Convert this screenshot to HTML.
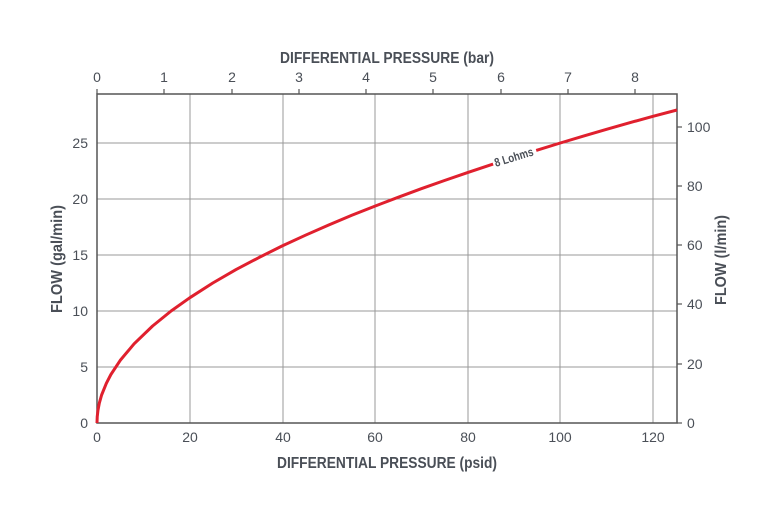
<!DOCTYPE html>
<html><head><style>body{margin:0;background:#fff}svg{display:block}text{font-family:"Liberation Sans Narrow","Liberation Sans",sans-serif;fill:#4a4f57}</style></head>
<body>
<svg width="780" height="520" viewBox="0 0 780 520" xmlns="http://www.w3.org/2000/svg">
<g stroke="#999" stroke-width="1">
<line x1="190" y1="94" x2="190" y2="423"/><line x1="283" y1="94" x2="283" y2="423"/><line x1="375" y1="94" x2="375" y2="423"/><line x1="468" y1="94" x2="468" y2="423"/><line x1="560" y1="94" x2="560" y2="423"/><line x1="653" y1="94" x2="653" y2="423"/>
<line x1="97" y1="143" x2="677" y2="143"/><line x1="97" y1="199" x2="677" y2="199"/><line x1="97" y1="255" x2="677" y2="255"/><line x1="97" y1="311" x2="677" y2="311"/><line x1="97" y1="367" x2="677" y2="367"/>
</g>
<rect x="97" y="94" width="580" height="329" fill="none" stroke="#555" stroke-width="1.5"/>
<g stroke="#555" stroke-width="1.2">
<line x1="97" y1="94" x2="97" y2="89"/><line x1="164" y1="94" x2="164" y2="89"/><line x1="232" y1="94" x2="232" y2="89"/><line x1="299" y1="94" x2="299" y2="89"/><line x1="366" y1="94" x2="366" y2="89"/><line x1="433" y1="94" x2="433" y2="89"/><line x1="501" y1="94" x2="501" y2="89"/><line x1="568" y1="94" x2="568" y2="89"/><line x1="635" y1="94" x2="635" y2="89"/>
<line x1="677" y1="127" x2="682" y2="127"/><line x1="677" y1="186" x2="682" y2="186"/><line x1="677" y1="245" x2="682" y2="245"/><line x1="677" y1="304" x2="682" y2="304"/><line x1="677" y1="364" x2="682" y2="364"/><line x1="677" y1="423" x2="682" y2="423"/>
</g>
<g font-size="14" text-anchor="middle">
<text x="97" y="82">0</text><text x="164" y="82">1</text><text x="232" y="82">2</text><text x="299" y="82">3</text><text x="366" y="82">4</text><text x="433" y="82">5</text><text x="501" y="82">6</text><text x="568" y="82">7</text><text x="635" y="82">8</text>
<text x="97" y="442">0</text><text x="190" y="442">20</text><text x="283" y="442">40</text><text x="375" y="442">60</text><text x="468" y="442">80</text><text x="560" y="442">100</text><text x="653" y="442">120</text>
</g>
<g font-size="14" text-anchor="end">
<text x="88" y="148">25</text><text x="88" y="204">20</text><text x="88" y="260">15</text><text x="88" y="316">10</text><text x="88" y="372">5</text><text x="88" y="428">0</text>
</g>
<g font-size="14" text-anchor="start">
<text x="687" y="132">100</text><text x="687" y="191">80</text><text x="687" y="250">60</text><text x="687" y="309">40</text><text x="687" y="369">20</text><text x="687" y="428">0</text>
</g>
<g font-size="16" font-weight="bold" text-anchor="middle" lengthAdjust="spacingAndGlyphs">
<text x="387" y="63" textLength="214" lengthAdjust="spacingAndGlyphs">DIFFERENTIAL PRESSURE (bar)</text>
<text x="387" y="468" textLength="220" lengthAdjust="spacingAndGlyphs">DIFFERENTIAL PRESSURE (psid)</text>
<text transform="translate(62,259) rotate(-90)" textLength="108" lengthAdjust="spacingAndGlyphs">FLOW (gal/min)</text>
<text transform="translate(726,260) rotate(-90)" textLength="90" lengthAdjust="spacingAndGlyphs">FLOW (l/min)</text>
</g>
<path fill="none" stroke="#e0202e" stroke-width="3" stroke-linejoin="round" d="M97,423 L97.23,416.7 L97.93,410.5 L99.3,403.2 L101.6,395 L106.3,383.4 L110.9,374.5 L120.2,360.4 L134.1,343.8 L152.6,326 L171.1,311 L189.7,297.8 L212.8,283 L236,269.6 L259.2,257.4 L282.3,245.9 L305.5,235.2 L328.7,225 L351.8,215.3 L375,206.1 L398.1,197.3 L421.3,188.7 L444.5,180.5 L467.6,172.6 L493.1,164.1 M536.2,150.4 L560.3,143 L583.5,136.1 L606.6,129.3 L629.8,122.7 L653,116.3 L677,110"/>
<text x="0" y="0" font-size="12" font-weight="bold" text-anchor="middle" textLength="40" lengthAdjust="spacingAndGlyphs" transform="translate(515,161) rotate(-17)">8 Lohms</text>
</svg>
</body></html>
